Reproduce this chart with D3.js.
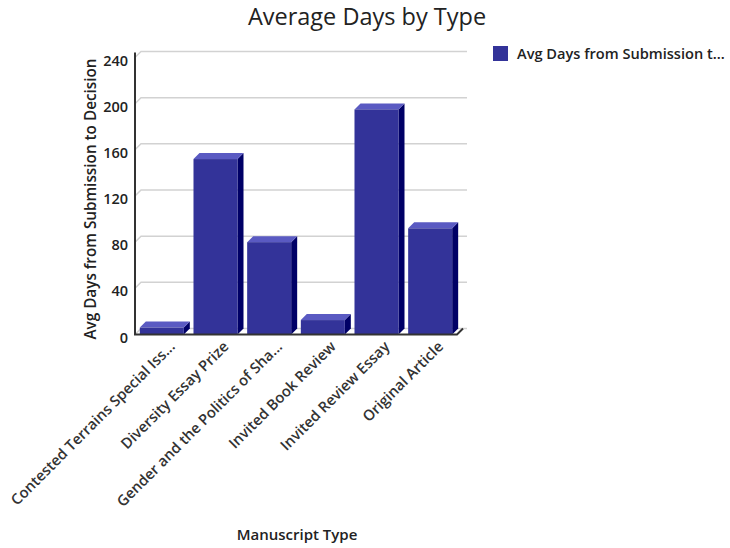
<!DOCTYPE html>
<html>
<head>
<meta charset="utf-8">
<script src="https://cdn.jsdelivr.net/npm/d3@7"></script>
<style>
  html, body { margin: 0; padding: 0; background: #fff; }
  svg { display: block; }
  text { font-family: "Open Sans", "Noto Sans", sans-serif; }
</style>
</head>
<body>
<svg id="chart" width="730" height="548"></svg>
<script>
const categories = [
  "Contested Terrains Special Iss...",
  "Diversity Essay Prize",
  "Gender and the Politics of Sha...",
  "Invited Book Review",
  "Invited Review Essay",
  "Original Article"
];
const values = [6, 152, 80, 12.5, 195, 92];
const yTicks = [0, 40, 80, 120, 160, 200, 240];
const seriesName = "Avg Days from Submission t...";
const chartTitle = "Average Days by Type";
const xTitle = "Manuscript Type";
const yTitle = "Avg Days from Submission to Decision";

const svg = d3.select("#chart");
const left = 135, right = 457, floorY = 334.5, topY = 57.5;
const depth = 6;

const x = d3.scaleBand().domain(categories).range([left, right]).paddingInner(0.18).paddingOuter(0.09);
const y = d3.scaleLinear().domain([0, 240]).range([floorY, topY]);

// gridlines on back wall
svg.append("g").selectAll("path").data(yTicks).join("path")
  .attr("d", v => `M${left},${y(v)} L${left + depth},${y(v) - depth} L${right + depth + 4},${y(v) - depth}`)
  .attr("fill", "none").attr("stroke", "#d2d2d2").attr("stroke-width", 1.5);

// bars
const bars = svg.append("g").selectAll("g").data(categories).join("g");
bars.append("path") // side
  .attr("d", (c, i) => {
    const x1 = x(c) + x.bandwidth(), yt = y(values[i]);
    return `M${x1},${floorY} L${x1},${yt} L${x1 + depth},${yt - depth} L${x1 + depth},${floorY - depth} Z`;
  })
  .attr("fill", "#000066");
bars.append("path") // top
  .attr("d", (c, i) => {
    const x0 = x(c), x1 = x0 + x.bandwidth(), yt = y(values[i]);
    return `M${x0},${yt} L${x0 + depth},${yt - depth} L${x1 + depth},${yt - depth} L${x1},${yt} Z`;
  })
  .attr("fill", "#5a5ac2");
bars.append("rect") // front
  .attr("x", c => x(c))
  .attr("y", (c, i) => y(values[i]))
  .attr("width", x.bandwidth())
  .attr("height", (c, i) => floorY - y(values[i]))
  .attr("fill", "#333399");

// axis lines
svg.append("path")
  .attr("d", `M${left},${topY - 5} L${left},${floorY} L${right},${floorY} L${right + depth},${floorY - depth}`)
  .attr("fill", "none").attr("stroke", "#333").attr("stroke-width", 2);

// y tick labels
const yAxis = svg.append("g").attr("transform", `translate(${left},3)`)
  .call(d3.axisLeft(y).tickValues(yTicks).tickSize(0).tickPadding(7));
yAxis.select(".domain").remove();
yAxis.selectAll("text").attr("font-size", 14.5).attr("font-weight", 600).attr("fill", "#222")
  .style("font-family", "'Open Sans', sans-serif");

// x labels
svg.append("g").selectAll("text").data(categories).join("text")
  .attr("transform", c => `translate(${x(c) + x.bandwidth() / 2 + 14},${floorY + 13}) rotate(-45)`)
  .attr("text-anchor", "end")
  .attr("font-size", 14.8).attr("font-weight", 600).attr("fill", "#333")
  .text(c => c);

// title
svg.append("text").attr("x", 367).attr("y", 25).attr("text-anchor", "middle")
  .attr("font-size", 23.5).attr("fill", "#222").text(chartTitle);

// axis titles
svg.append("text").attr("x", 297).attr("y", 540).attr("text-anchor", "middle")
  .attr("font-size", 15).attr("font-weight", 600).attr("fill", "#222").text(xTitle);
svg.append("text").attr("transform", "translate(96,199) rotate(-90)").attr("text-anchor", "middle")
  .attr("font-size", 15.3).attr("font-weight", 600).attr("fill", "#222").text(yTitle);

// legend
svg.append("rect").attr("x", 493).attr("y", 46).attr("width", 15).attr("height", 15).attr("fill", "#333399");
svg.append("text").attr("x", 517).attr("y", 59).attr("font-size", 14.6).attr("font-weight", 600).attr("fill", "#222").text(seriesName);
</script>
</body>
</html>
